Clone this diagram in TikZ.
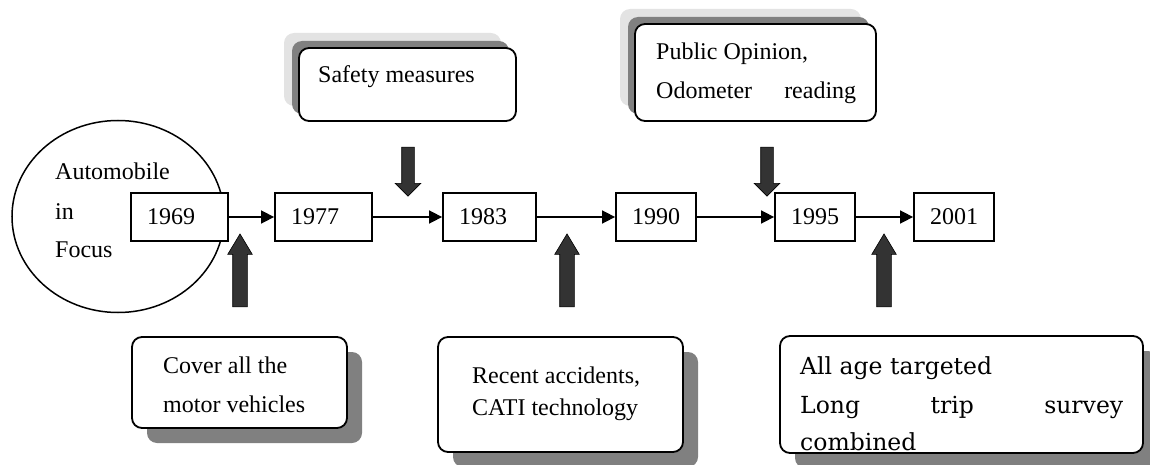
\documentclass[tikz,border=0pt]{standalone}
\usepackage{fontspec}
\setmainfont{Liberation Serif}
\newfontfamily\centfont{DejaVu Serif}
\usetikzlibrary{shapes.arrows,shapes.geometric,shadows,arrows.meta}
\definecolor{shdark}{HTML}{808080}
\definecolor{shlight}{HTML}{E3E3E3}
\definecolor{fatfill}{HTML}{333333}
\begin{document}
\begin{tikzpicture}[x=1pt,y=-1pt,
  every node/.style={font=\fontsize{24}{28}\selectfont},
  yearbox/.style={draw, line width=1.8pt, fill=white, minimum height=48pt,
    inner ysep=0pt, inner xsep=16pt, text width=#1, align=left},
  tl/.style={line width=1.6pt, -{Triangle[length=13pt,width=13pt]}},
  note/.style={draw, line width=1.8pt, fill=white, rounded corners=10pt, inner sep=0pt},
  upshadow/.style={general shadow={shadow xshift=-15pt, shadow yshift=15pt, fill=shlight},
    general shadow={shadow xshift=-7pt, shadow yshift=7pt, fill=shdark}},
  downshadow/.style={general shadow={shadow xshift=15pt, shadow yshift=-15pt, fill=shdark}},
  downarrow/.style={single arrow, draw=black, line width=0.6pt, fill=fatfill,
    inner xsep=0pt, inner ysep=6pt, minimum height=49pt, single arrow head extend=6.5pt,
    single arrow tip angle=90, rotate=-90},
  uparrow/.style={single arrow, draw=black, line width=0.6pt, fill=fatfill,
    inner xsep=0pt, inner ysep=7pt, minimum height=73pt, single arrow head extend=5pt,
    single arrow tip angle=62, rotate=90},
  txt/.style={anchor=base west, inner sep=0pt}
]
\useasboundingbox (0,0) rectangle (1150,465);

% ellipse
\node[draw, ellipse, line width=1.5pt, inner sep=0pt, minimum width=212pt, minimum height=192pt] (el) at (118,216.5) {};
\node[txt] (elt1) at (55,179) {Automobile};
\node[txt] (elt2) at (55,219) {in};
\node[txt] (elt3) at (55,257) {Focus};

% year boxes
\node[yearbox=65pt] (b1969) at (179.5,217) {1969};
\node[yearbox=65pt] (b1977) at (323.5,217) {1977};
\node[yearbox=61pt] (b1983) at (489.5,217) {1983};
\node[yearbox=48pt] (b1990) at (656,217) {1990};
\node[yearbox=48pt] (b1995) at (815,217) {1995};
\node[yearbox=48pt] (b2001) at (954,217) {2001};

\draw[tl] (b1969) -- (b1977);
\draw[tl] (b1977) -- (b1983);
\draw[tl] (b1983) -- (b1990);
\draw[tl] (b1990) -- (b1995);
\draw[tl] (b1995) -- (b2001);

% top notes
\node[note, upshadow, minimum width=217pt, minimum height=73pt] (sm) at (407.5,84.5) {};
\node[txt] (smt) at (318,83) {Safety measures};
\node[note, upshadow, minimum width=241pt, minimum height=97pt] (po) at (755.5,72.5) {};
\node[txt] (pot1) at (656,60) {Public Opinion,};
\node[txt] (pot2) at (656,99) {\makebox[200pt][s]{Odometer reading}};

% bottom notes
\node[note, downshadow, minimum width=215pt, minimum height=91pt] (cv) at (239.5,382.5) {};
\node[txt] (cvt1) at (163,373) {Cover all the};
\node[txt] (cvt2) at (163,412) {motor vehicles};
\node[note, downshadow, minimum width=245pt, minimum height=115pt] (ra) at (560.5,394.5) {};
\node[txt] (rat1) at (472,383) {Recent accidents,};
\node[txt] (rat2) at (472,415) {CATI technology};
\node[note, downshadow, minimum width=363pt, minimum height=117pt] (aa) at (961.5,394.5) {};
\node[txt, font=\centfont\fontsize{23.5}{28}\selectfont] (aat1) at (800,374) {All age targeted};
\node[txt, font=\centfont\fontsize{23.5}{28}\selectfont] (aat2) at (800,413) {\makebox[323pt][s]{Long trip survey}};
\node[txt, font=\centfont\fontsize{23.5}{28}\selectfont] (aat3) at (800,450) {combined};

% fat arrows
\node[downarrow] (da1) at (408,168.5) {};
\node[downarrow] (da2) at (767,168.5) {};
\node[uparrow] (ua1) at (240,276.5) {};
\node[uparrow] (ua2) at (567,276.5) {};
\node[uparrow] (ua3) at (884,276.5) {};
\end{tikzpicture}
\end{document}
